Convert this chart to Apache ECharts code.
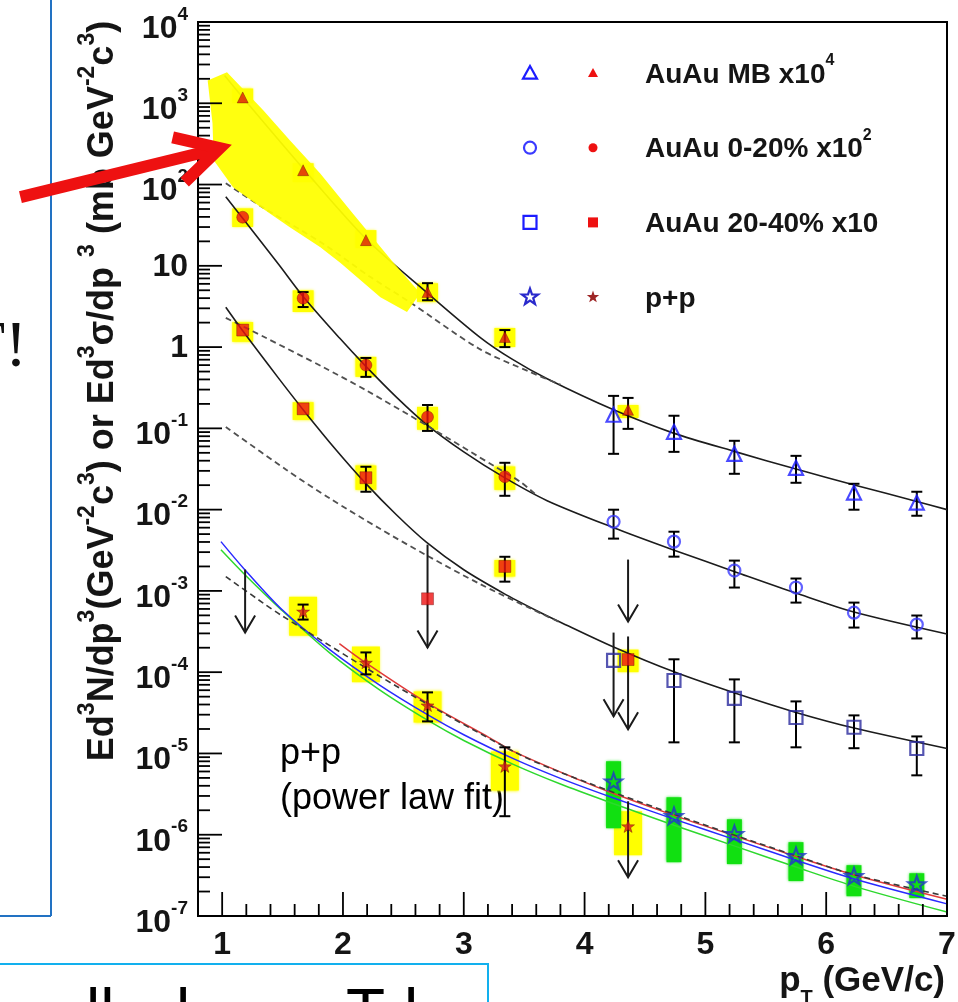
<!DOCTYPE html>
<html>
<head>
<meta charset="utf-8">
<title>Direct photon invariant yields</title>
<script src="https://cdn.jsdelivr.net/npm/echarts@6/dist/echarts.min.js"></script>
<style>
  html, body { margin: 0; padding: 0; background: #ffffff; overflow: hidden; }
  #chart { width: 958px; height: 1002px; }
</style>
</head>
<body>
<div id="chart"></div>
<script>
// ---------- AuAu minimum bias, scaled x10^4 ----------
const mbLowPt    = [1.17, 1.67, 2.19, 2.70, 3.34, 4.36];
const mbLowY     = [1180, 150, 20.7, 4.75, 1.33, 0.169];
const mbLowErrLo = [null, null, null, 3.77, 1.00, 0.0986];
const mbLowErrHi = [null, null, null, 6.12, 1.62, 0.237];
const mbLowSysLo = [1000, 107, 16.5, 3.6, 1.0, 0.134];
const mbLowSysHi = [1520, 183, 27.5, 6.1, 1.72, 0.194];

// calorimeter pT bins shared by the open symbols
const calPt      = [4.24, 4.74, 5.24, 5.75, 6.23, 6.75];
const mbCalY     = [0.147, 0.0906, 0.0486, 0.0327, 0.0162, 0.0122];
const mbCalErrLo = [0.0486, 0.0514, 0.0276, 0.0214, 0.00998, 0.00841];
const mbCalErrHi = [0.251, 0.143, 0.0703, 0.0459, 0.0208, 0.0166];

// ---------- AuAu 0-20%, scaled x10^2 ----------
const c0LowPt    = [1.17, 1.67, 2.19, 2.70, 3.34];
const c0LowY     = [39.6, 4.0, 0.60, 0.138, 0.0254];
const c0LowErrLo = [null, 3.11, 0.43, 0.093, 0.0148];
const c0LowErrHi = [null, 4.75, 0.735, 0.194, 0.0377];
const c0LowSysLo = [30, 2.7, 0.43, 0.096, 0.0175];
const c0LowSysHi = [51, 5.0, 0.76, 0.184, 0.034];
const c0CalY     = [0.0071, 0.00404, 0.00178, 0.0011, 0.00054, 0.000385];
const c0CalErrLo = [0.0044, 0.00264, 0.0011, 0.000718, 0.000354, 0.00026];
const c0CalErrHi = [0.00998, 0.00535, 0.00236, 0.00142, 0.000718, 0.000498];

// ---------- AuAu 20-40%, scaled x10 ----------
const c1LowPt    = [1.17, 1.67, 2.19, 2.70, 3.34, 4.36];
const c1LowY     = [1.62, 0.174, 0.0247, 0.0008, 0.0020, 0.000143];
const c1LowErrLo = [null, null, 0.0166, null, 0.0013, null];
const c1LowErrHi = [null, null, 0.0337, null, 0.00263, null];
const c1LowSysLo = [1.16, 0.127, 0.0175, null, 0.0015, 0.000100];
const c1LowSysHi = [2.03, 0.21, 0.035, null, 0.0024, 0.000190];
const c1CalY     = [1.4e-4, 7.9e-5, 4.75e-5, 2.77e-5, 2.1e-5, 1.15e-5];
const c1CalErrLo = [null, 1.37e-5, 1.37e-5, 1.19e-5, 1.16e-5, 5.38e-6];
const c1CalErrHi = [null, 1.44e-4, 8.15e-5, 4.37e-5, 2.94e-5, 1.62e-5];

// ---------- p+p ----------
const ppLowPt    = [1.67, 2.19, 2.70, 3.34, 4.36];
const ppLowY     = [5.57e-4, 1.31e-4, 3.9e-5, 6.95e-6, 1.27e-6];
const ppLowErrLo = [4.44e-4, 9.4e-5, 2.48e-5, 1.69e-6, null];
const ppLowErrHi = [6.79e-4, 1.75e-4, 5.64e-5, 1.19e-5, null];
const ppLowSysLo = [2.8e-4, 7.5e-5, 2.4e-5, 3.5e-6, 5.6e-7];
const ppLowSysHi = [8.5e-4, 2.07e-4, 5.8e-5, 1.06e-5, 1.95e-6];
const ppCalY     = [4.54e-6, 1.7e-6, 1.02e-6, 5.5e-7, 3.1e-7, 2.46e-7];
const ppCalSysLo = [1.2e-6, 4.59e-7, 4.35e-7, 2.69e-7, 1.75e-7, 1.66e-7];
const ppCalSysHi = [8.0e-6, 2.89e-6, 1.55e-6, 8.1e-7, 4.22e-7, 3.36e-7];

// ---------- upper limits: pT, arrow start, arrow end ----------
const limitPt   = [1.19, 2.70, 4.36, 4.36, 4.24, 4.36];
const limitFrom = [1.83e-3, 3.71e-3, 2.43e-3, 2.75e-4, 3.07e-4, 2.58e-6];
const limitTo   = [3.07e-4, 2.01e-4, 4.2e-4, 1.98e-5, 2.86e-5, 3.0e-7];

// ---------- fits (solid) and scaled pQCD (dashed) ----------
const fitMB  = [[1.02,2200],[1.17,1180],[1.67,158],[2.19,21.5],[2.69,4.75],[3.14,1.30],[3.40,0.71],[3.69,0.407],[4.24,0.169],[4.73,0.088],[5.26,0.051],[5.75,0.0316],[6.24,0.020],[6.75,0.0126],[7.0,0.010]];
const pqcdMB = [[1.03,104],[1.34,52],[1.84,18.5],[2.22,7.4],[2.55,3.6],[3.13,0.95],[3.54,0.50],[3.80,0.345]];
const fitC0  = [[1.03,70.8],[1.17,38.4],[1.47,10.3],[1.67,4.2],[1.97,1.30],[2.18,0.60],[2.44,0.244],[2.69,0.112],[3.00,0.0513],[3.33,0.0251],[3.69,0.0129],[4.24,0.0060],[4.73,0.00322],[5.26,0.00169],[5.75,0.00094],[6.23,0.00055],[7.0,0.000295]];
const pqcdC0 = [[1.03,2.29],[1.34,1.35],[1.84,0.562],[2.19,0.295],[2.71,0.105],[3.27,0.0331],[3.47,0.0219],[3.60,0.0151]];
const fitC1  = [[1.03,3.09],[1.17,1.585],[1.46,0.427],[1.67,0.170],[1.94,0.0550],[2.19,0.0209],[2.44,0.00871],[2.69,0.00398],[3.00,0.00182],[3.33,0.000933],[3.60,0.000575],[3.80,0.000412],[4.24,0.000204],[4.74,0.000101],[5.25,5.5e-5],[5.75,3.2e-5],[6.24,2.04e-5],[7.0,1.15e-5]];
const pqcdC1 = [[1.03,0.104],[1.53,0.031],[1.89,0.01377],[2.30,0.00589],[2.69,0.00275],[3.13,0.001225],[3.54,0.00062],[3.80,0.000408]];
const ppFitBlue  = [[0.99,0.00404],[1.18,0.001875],[1.49,0.000598],[1.89,0.000189],[2.30,7.0e-5],[2.71,2.94e-5],[3.00,1.70e-5],[3.41,8.63e-6],[3.80,4.94e-6],[4.24,2.83e-6],[4.74,1.556e-6],[5.25,8.65e-7],[5.75,4.86e-7],[6.24,2.83e-7],[7.0,1.41e-7]];
const ppFitGreen = [[0.99,0.00321],[1.18,0.00163],[1.49,0.000585],[1.89,0.0001726],[2.30,6.1e-5],[2.71,2.51e-5],[3.00,1.445e-5],[3.41,7.35e-6],[3.80,4.21e-6],[4.24,2.41e-6],[4.74,1.31e-6],[5.25,7.19e-7],[5.75,4.0e-7],[6.24,2.3e-7],[7.0,1.117e-7]];
const ppFitRed   = [[1.97,2.25e-4],[2.19,1.30e-4],[2.69,4.24e-5],[3.21,1.57e-5],[3.41,1.06e-5],[3.96,4.69e-6],[4.24,3.21e-6],[4.74,1.73e-6],[5.25,9.59e-7],[5.75,5.40e-7],[6.24,3.18e-7],[7.0,1.61e-7]];
const pqcdPP     = [[1.03,0.0015],[1.34,7.08e-4],[1.49,5.0e-4],[2.44,6.76e-5],[3.41,1.06e-5],[3.80,5.86e-6],[4.74,1.79e-6],[5.75,5.5e-7],[6.24,3.2e-7],[7.0,1.75e-7]];

// highlighted theory band over the minimum-bias low-pT region (pT, yield)
const bandMB = [[0.88,1910],[1.04,2400],[1.34,818],[1.56,350],[1.81,138],[2.08,44.4],[2.42,10.8],[2.64,4.6],[2.53,2.7],[2.31,4.1],[1.98,10.8],[1.81,17],[1.56,29.9],[1.32,52.6],[1.09,92.7],[0.93,199],[0.92,566]];

// red call-out arrow (pT, yield): tail, tip, two barb ends
const calloutTail = [-0.67, 70];
const calloutTip  = [0.98, 280];
const calloutBarbs = [[0.59, 380], [0.69, 107]];

// axis ranges and labels
const X_MIN = 0.8, X_MAX = 7, Y_MIN = 1e-7, Y_MAX = 1e4;
const xMajorTicks = [1, 2, 3, 4, 5, 6, 7];
const legendLabels = ['{a|AuAu MB x10}{s|4}', '{a|AuAu 0-20% x10}{s|2}', '{a|AuAu 20-40% x10}', '{a|p+p}'];

// ---------- helpers ----------
const FONT = '"Liberation Sans", Arial, Helvetica, sans-serif';
const INK = '#151515';

const yDecades = [];
for (let k = -7; k <= 4; k++) yDecades.push(k);
const yMinorTicks = [];
for (let k = -7; k < 4; k++) for (let m = 2; m <= 9; m++) yMinorTicks.push(m * Math.pow(10, k));
const xMinorTicks = [];
for (let i = 1; i < 31; i++) {
  const v = Math.round((X_MIN + 0.2 * i) * 10) / 10;
  if (Math.abs(v - Math.round(v)) > 1e-6) xMinorTicks.push(v);
}

const toPoints = (xs, ys) => xs.map((x, i) => [x, ys[i]]);
const toRanges = (xs, lo, hi) => {
  const out = [];
  xs.forEach((x, i) => { if (lo[i] != null && hi[i] != null) out.push([x, lo[i], hi[i]]); });
  return out;
};

function customSeries(name, data, renderItem, z, clip) {
  return { type: 'custom', name, data, renderItem, z, clip: clip !== false, silent: true, encode: { x: 0, y: 1 } };
}

function boxRenderer(halfW, fill) {
  return function (params, api) {
    const x = api.value(0);
    const top = api.coord([x, api.value(2)]);
    const bot = api.coord([x, api.value(1)]);
    return { type: 'rect', shape: { x: top[0] - halfW, y: top[1], width: 2 * halfW, height: bot[1] - top[1] },
             style: { fill, shadowBlur: 3, shadowColor: fill } };
  };
}

function errorBarRenderer(params, api) {
  const x = api.value(0);
  const top = api.coord([x, api.value(2)]);
  const bot = api.coord([x, api.value(1)]);
  const cap = 5.5;
  const st = { stroke: '#000', lineWidth: 2 };
  return { type: 'group', children: [
    { type: 'line', shape: { x1: top[0], y1: top[1], x2: bot[0], y2: bot[1] }, style: st },
    { type: 'line', shape: { x1: top[0] - cap, y1: top[1], x2: top[0] + cap, y2: top[1] }, style: st },
    { type: 'line', shape: { x1: bot[0] - cap, y1: bot[1], x2: bot[0] + cap, y2: bot[1] }, style: st }
  ] };
}

function limitRenderer(params, api) {
  const x = api.value(0);
  const a = api.coord([x, api.value(1)]);
  const b = api.coord([x, api.value(2)]);
  const st = { stroke: '#1a1a1a', lineWidth: 2, fill: null };
  return { type: 'group', children: [
    { type: 'line', shape: { x1: a[0], y1: a[1], x2: b[0], y2: b[1] }, style: st },
    { type: 'polyline', shape: { points: [[b[0] - 10, b[1] - 17], [b[0], b[1]], [b[0] + 10, b[1] - 17]] }, style: st }
  ] };
}

const tickRich = {
  b: { fontFamily: FONT, fontWeight: 'bold', fontSize: 32, lineHeight: 40, verticalAlign: 'bottom', fill: INK },
  c: { fontFamily: FONT, fontWeight: 'bold', fontSize: 32, fill: INK },
  s: { fontFamily: FONT, fontWeight: 'bold', fontSize: 19, verticalAlign: 'top', fill: INK }
};

function yLabel(k) {
  if (k === 0) return '{c|1}';
  if (k === 1) return '{c|10}';
  return '{b|10}{s|' + k + '}';
}

// frame ticks and tick labels, placed through the axis scales
function axisRenderer(params, api) {
  const kids = [];
  const st = { stroke: '#000', lineWidth: 1.8 };
  const x0 = api.coord([X_MIN, 1])[0];
  const y0 = api.coord([1, Y_MIN])[1];
  const tick = (x1, y1, x2, y2) => kids.push({ type: 'line', shape: { x1, y1, x2, y2 }, style: st });
  yDecades.forEach(k => {
    const y = api.coord([X_MIN, Math.pow(10, k)])[1];
    tick(x0, y, x0 + 24, y);
    const withSup = k !== 0 && k !== 1;
    kids.push({ type: 'text', x: x0 - 10, y: y + (withSup ? 3 : 1),
      style: { text: yLabel(k), rich: tickRich, align: 'right', verticalAlign: 'middle', fill: INK } });
  });
  yMinorTicks.forEach(v => {
    const y = api.coord([X_MIN, v])[1];
    tick(x0, y, x0 + 12, y);
  });
  xMajorTicks.forEach(v => {
    const x = api.coord([v, Y_MIN])[0];
    tick(x, y0, x, y0 - 24);
    kids.push({ type: 'text', x: x, y: y0 + 29,
      style: { text: String(v), fontFamily: FONT, fontWeight: 'bold', fontSize: 32, fill: INK, align: 'center', verticalAlign: 'middle' } });
  });
  xMinorTicks.forEach(v => {
    const x = api.coord([v, Y_MIN])[0];
    tick(x, y0, x, y0 - 12);
  });
  return { type: 'group', children: kids };
}

function bandRenderer(params, api) {
  return { type: 'polygon', shape: { points: bandMB.map(p => api.coord(p)) },
           style: { fill: '#ffff00', opacity: 0.94 } };
}

function calloutRenderer(params, api) {
  const t = api.coord(calloutTail), h = api.coord(calloutTip);
  const w1 = api.coord(calloutBarbs[0]), w2 = api.coord(calloutBarbs[1]);
  const st = { stroke: '#ee1111', lineWidth: 12, fill: null, lineJoin: 'miter', lineCap: 'butt' };
  return { type: 'group', children: [
    { type: 'line', shape: { x1: t[0], y1: t[1], x2: h[0] - 4, y2: h[1] + 1 }, style: st },
    { type: 'polyline', shape: { points: [w1, h, w2] }, style: st }
  ] };
}

function curve(name, data, color, width, dashed, z) {
  return { type: 'line', name, data, showSymbol: false, symbol: 'none', smooth: 0.3,
           lineStyle: { color, width, type: dashed ? [6, 4] : 'solid' }, z: z || 2, silent: true };
}

function markers(name, data, symbol, size, itemStyle) {
  return { type: 'scatter', name, data, symbol, symbolSize: size, symbolKeepAspect: true, itemStyle, z: 6, silent: true };
}

const STAR = 'path://M0,-10L2.35,-3.24L9.51,-3.09L3.8,1.24L5.88,8.09L0,4L-5.88,8.09L-3.8,1.24L-9.51,-3.09L-2.35,-3.24Z';
const openStyle = c => ({ color: 'rgba(255,255,255,0)', borderColor: c, borderWidth: 2.2 });
const fillStyle = c => ({ color: c, borderColor: 'rgba(90,0,0,0.55)', borderWidth: 0.8 });

// ---------- legend drawn as graphics ----------
function starPoints(cx, cy, R) {
  const pts = [];
  for (let i = 0; i < 10; i++) {
    const r = i % 2 ? R * 0.4 : R;
    const a = -Math.PI / 2 + i * Math.PI / 5;
    pts.push([cx + r * Math.cos(a), cy + r * Math.sin(a)]);
  }
  return pts;
}
function legendSymbol(kind, cx, cy, r, open, color) {
  const style = open ? { fill: null, stroke: color, lineWidth: 2.2 } : { fill: color };
  if (kind === 'triangle') return { type: 'polygon', shape: { points: [[cx, cy - r], [cx + r, cy + r * 0.8], [cx - r, cy + r * 0.8]] }, style };
  if (kind === 'circle') return { type: 'circle', shape: { cx, cy, r }, style };
  if (kind === 'rect') return { type: 'rect', shape: { x: cx - r, y: cy - r, width: 2 * r, height: 2 * r }, style };
  return { type: 'polygon', shape: { points: starPoints(cx, cy, r) }, style };
}
const legendKinds = ['triangle', 'circle', 'rect', 'star'];
const legendOpenColors = ['#1c1cff', '#3a3aff', '#1c1cff', '#2a2acc'];
const legendFillColors = ['#ee1111', '#ee1111', '#ee1111', '#9e2626'];
const legendRich = {
  a: { fontFamily: FONT, fontWeight: 'bold', fontSize: 28, lineHeight: 36, verticalAlign: 'bottom', fill: INK },
  s: { fontFamily: FONT, fontWeight: 'bold', fontSize: 16, verticalAlign: 'top', fill: INK }
};
const legendGraphics = [];
legendLabels.forEach((lab, i) => {
  const cy = 73 + i * 74.7;
  const oR = [7, 6, 6.5, 8.5][i];
  const fR = [5, 4.5, 5, 6.5][i];
  legendGraphics.push(legendSymbol(legendKinds[i], 530, cy, oR, true, legendOpenColors[i]));
  legendGraphics.push(legendSymbol(legendKinds[i], 593, cy, fR, false, legendFillColors[i]));
  legendGraphics.push({ type: 'text', x: 645, y: cy - 2, style: { text: lab, rich: legendRich, align: 'left', verticalAlign: 'middle' } });
});

const titleRich = {
  b: { fontFamily: FONT, fontWeight: 'bold', fontSize: 36, lineHeight: 45, verticalAlign: 'bottom', fill: INK },
  s: { fontFamily: FONT, fontWeight: 'bold', fontSize: 23, verticalAlign: 'top', fill: INK }
};
const xTitleRich = {
  b: { fontFamily: FONT, fontWeight: 'bold', fontSize: 35, lineHeight: 44, verticalAlign: 'top', fill: INK },
  t: { fontFamily: FONT, fontWeight: 'bold', fontSize: 20, verticalAlign: 'bottom', fill: INK }
};

const pageGraphics = [
  // slide frames around the plot
  { type: 'line', shape: { x1: 51, y1: 0, x2: 51, y2: 916 }, style: { stroke: '#2272c3', lineWidth: 2 } },
  { type: 'line', shape: { x1: 0, y1: 916, x2: 51, y2: 916 }, style: { stroke: '#2272c3', lineWidth: 2 } },
  { type: 'polyline', shape: { points: [[0, 964], [488, 964], [488, 1003]] }, style: { stroke: '#12b0ee', lineWidth: 2, fill: null } },
  { type: 'text', x: 27, y: 349, style: { text: 'T!', fontFamily: '"Liberation Serif", "Times New Roman", serif', fontSize: 66, fill: '#111', align: 'right', verticalAlign: 'middle' } },
  { type: 'text', x: 86, y: 1016, style: { text: 'll', fontFamily: FONT, fontSize: 64, fill: '#000', verticalAlign: 'middle' } },
  { type: 'text', x: 176, y: 1016, style: { text: 'l', fontFamily: FONT, fontSize: 64, fill: '#000', verticalAlign: 'middle' } },
  { type: 'text', x: 346, y: 1016, style: { text: 'T', fontFamily: FONT, fontSize: 64, fill: '#000', verticalAlign: 'middle' } },
  { type: 'text', x: 404, y: 1016, style: { text: 'l', fontFamily: FONT, fontSize: 64, fill: '#000', verticalAlign: 'middle' } },
  // axis titles
  { type: 'text', x: 99, y: 391, rotation: Math.PI / 2, style: {
      text: '{b|Ed}{s|3}{b|N/dp}{s|3}{b|(GeV}{s|-2}{b|c}{s|3}{b|) or Ed}{s|3}{b|σ/dp }{s|3}{b| (mb GeV}{s|-2}{b|c}{s|3}{b|)}',
      rich: titleRich, align: 'center', verticalAlign: 'middle' } },
  { type: 'text', x: 945, y: 986, style: { text: '{b|p}{t|T}{b| (GeV/c)}', rich: xTitleRich, align: 'right', verticalAlign: 'middle' } },
  // fit annotation
  { type: 'text', x: 280, y: 732, style: { text: 'p+p\n(power law fit)', fontFamily: FONT, fontSize: 36, lineHeight: 45, fill: '#000', align: 'left', verticalAlign: 'top' } }
].concat(legendGraphics);

// ---------- series ----------
const series = [
  customSeries('sys AuAu', [].concat(toRanges(mbLowPt, mbLowSysLo, mbLowSysHi), toRanges(c0LowPt, c0LowSysLo, c0LowSysHi), toRanges(c1LowPt, c1LowSysLo, c1LowSysHi)), boxRenderer(10.5, '#ffff00'), 1),
  customSeries('sys p+p', toRanges(ppLowPt, ppLowSysLo, ppLowSysHi), boxRenderer(14, '#ffff00'), 1),
  customSeries('sys p+p calorimeter', toRanges(calPt, ppCalSysLo, ppCalSysHi), boxRenderer(7.5, '#11e011'), 1),

  curve('fit MB', fitMB, '#1c1c1c', 1.6, false),
  curve('pQCD MB', pqcdMB, '#505050', 1.8, true),
  curve('fit 0-20%', fitC0, '#1c1c1c', 1.6, false),
  curve('pQCD 0-20%', pqcdC0, '#505050', 1.8, true),
  curve('fit 20-40%', fitC1, '#1c1c1c', 1.6, false),
  curve('pQCD 20-40%', pqcdC1, '#505050', 1.8, true),
  curve('p+p fit green', ppFitGreen, '#2ed82e', 1.5, false),
  curve('p+p fit blue', ppFitBlue, '#2a2aff', 1.5, false),
  curve('p+p fit red', ppFitRed, '#e03a3a', 1.5, false),
  curve('pQCD p+p', pqcdPP, '#3a3a3a', 1.6, true),

  customSeries('band', [bandMB[0]], bandRenderer, 3),

  customSeries('errors', [].concat(
      toRanges(mbLowPt, mbLowErrLo, mbLowErrHi), toRanges(calPt, mbCalErrLo, mbCalErrHi),
      toRanges(c0LowPt, c0LowErrLo, c0LowErrHi), toRanges(calPt, c0CalErrLo, c0CalErrHi),
      toRanges(c1LowPt, c1LowErrLo, c1LowErrHi), toRanges(calPt, c1CalErrLo, c1CalErrHi),
      toRanges(ppLowPt, ppLowErrLo, ppLowErrHi)), errorBarRenderer, 4),
  customSeries('upper limits', limitPt.map((x, i) => [x, limitFrom[i], limitTo[i]]), limitRenderer, 4),

  markers('AuAu MB x10^4', toPoints(mbLowPt, mbLowY), 'triangle', 11, fillStyle('#dd1a0a')),
  markers('AuAu MB x10^4 cal', toPoints(calPt, mbCalY), 'triangle', 14, openStyle('#1c1cff')),
  markers('AuAu 0-20% x10^2', toPoints(c0LowPt, c0LowY), 'circle', 12, fillStyle('#ee1111')),
  markers('AuAu 0-20% x10^2 cal', toPoints(calPt, c0CalY), 'circle', 12, openStyle('#3a3aff')),
  markers('AuAu 20-40% x10', toPoints(c1LowPt, c1LowY), 'rect', 12, fillStyle('#ee1111')),
  markers('AuAu 20-40% x10 cal', toPoints(calPt, c1CalY), 'rect', 13, openStyle('#2a2a9e')),
  markers('p+p', toPoints(ppLowPt, ppLowY), STAR, 13, fillStyle('#d81a1a')),
  markers('p+p cal', toPoints(calPt, ppCalY), STAR, 17, openStyle('#2233cc')),

  customSeries('axes', [[1, 1]], axisRenderer, 8, false),
  customSeries('callout', [[1, 1]], calloutRenderer, 12, false)
];

const chart = echarts.init(document.getElementById('chart'), null, { renderer: 'canvas', width: 958, height: 1002 });
chart.setOption({
  animation: false,
  backgroundColor: '#ffffff',
  grid: { left: 198, right: 11, top: 22, bottom: 86, show: true, borderColor: '#000', borderWidth: 2, backgroundColor: 'rgba(0,0,0,0)' },
  xAxis: { type: 'value', min: X_MIN, max: X_MAX, axisLine: { show: false }, axisTick: { show: false }, axisLabel: { show: false }, splitLine: { show: false } },
  yAxis: { type: 'log', logBase: 10, min: Y_MIN, max: Y_MAX, axisLine: { show: false }, axisTick: { show: false }, axisLabel: { show: false }, splitLine: { show: false } },
  graphic: pageGraphics,
  series
});
</script>
</body>
</html>
